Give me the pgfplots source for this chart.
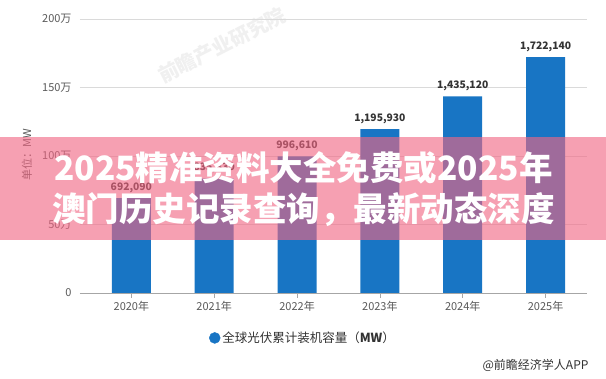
\documentclass[border=0pt]{standalone}
\usepackage{pgfplots}
\pgfplotsset{compat=1.18}
\usepackage{fontspec}
\setmainfont{Noto Sans CJK SC}
\definecolor{barblue}{RGB}{24,117,196}
\definecolor{bannerpink}{RGB}{242,102,131}
\definecolor{gridgray}{RGB}{218,218,218}
\definecolor{ticktext}{RGB}{90,90,90}
\definecolor{darktext}{RGB}{51,51,51}
\begin{document}
\begin{tikzpicture}
\useasboundingbox (0pt,0pt) rectangle (606pt,379pt);
\fill[white] (0pt,0pt) rectangle (606pt,379pt);
% faint watermark
\node[rotate=27, text=black!6, font=\bfseries\fontsize{20}{22}\selectfont] at (222pt,334pt) {前瞻产业研究院};
\begin{axis}[
  at={(80pt,86pt)}, anchor=south west,
  scale only axis, width=507pt, height=274pt,
  xmin=-0.62, xmax=5.5, ymin=0, ymax=2000000,
  axis lines=left,
  axis line style={-},
  x axis line style={draw=gray!70},
  y axis line style={draw=none},
  xtick={0,1,2,3,4,5},
  xticklabels={2020年,2021年,2022年,2023年,2024年,2025年},
  ytick={0,500000,1000000,1500000,2000000},
  yticklabels={0,50万,100万,150万,200万},
  scaled y ticks=false,
  ymajorgrids, grid style={draw=gridgray, line width=0.7pt},
  xtick style={draw=gray!70, line width=0.6pt},
  ytick style={draw=none},
  major tick length=5pt, tick align=outside,
  tick label style={font=\fontsize{11}{13}\selectfont, text=ticktext},
  /pgf/number format/assume math mode=true,
  legend style={at={(0.44,-0.164)}, anchor=center, draw=none, fill=none,
    font=\fontsize{12.5}{14}\selectfont, text=darktext},
  legend cell align=left,
  clip=false,
]
\addplot[ybar, bar width=39pt, fill=barblue, draw=none,
  point meta=explicit symbolic,
  nodes near coords,
  every node near coord/.append style={font=\bfseries\fontsize{10.3}{12}\selectfont, text=darktext, yshift=2pt},
  forget plot]
  coordinates {
  (0,692090) [692,090]
  (1,835330) [835,330]
  (2,996610) [996,610]
  (3,1195930) [1,195,930]
  (4,1435120) [1,435,120]
  (5,1722140) [1,722,140]
  };
\addlegendimage{only marks, mark=*, mark size=5.5pt, color=barblue}
\addlegendentry{全球光伏累计装机容量（\textbf{MW}）}
\end{axis}
% axis title
\node[rotate=90, text=ticktext, font=\fontsize{11}{13}\selectfont] at (27pt,224pt) {单位：MW};
% footer
\node[anchor=east, text=darktext, font=\fontsize{12}{14}\selectfont] at (592pt,14pt) {@前瞻经济学人APP};
% banner overlay
\fill[bannerpink, opacity=0.62] (0pt,139pt) rectangle (606pt,242pt);
\node[anchor=base, text=white, font=\bfseries\fontsize{33.5}{40}\selectfont, inner sep=0pt] at (303.5pt,198.3pt) {2025精准资料大全免费或2025年};
\node[anchor=base, text=white, font=\bfseries\fontsize{33.5}{40}\selectfont, inner sep=0pt] at (303.5pt,157.3pt) {澳门历史记录查询，最新动态深度};
\end{tikzpicture}
\end{document}
